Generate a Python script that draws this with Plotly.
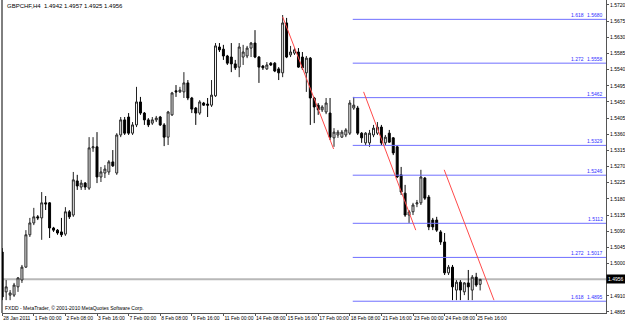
import plotly.graph_objects as go

# ---- GBPCHF H4 candles (28 Jan 2011 16:00 -> 25 Feb 2011 20:00) ----
opens = [1.5032, 1.4921, 1.4912, 1.4912, 1.4935, 1.4954, 1.4990, 1.5080, 1.5113, 1.5130,
         1.5127, 1.5169, 1.5169, 1.5099, 1.5093, 1.5088, 1.5082, 1.5144, 1.5135, 1.5230,
         1.5213, 1.5224, 1.5210, 1.5322, 1.5325, 1.5241, 1.5252, 1.5255, 1.5283, 1.5252,
         1.5358, 1.5400, 1.5408, 1.5363, 1.5386, 1.5450, 1.5419, 1.5400, 1.5391, 1.5400,
         1.5408, 1.5386, 1.5352, 1.5414, 1.5481, 1.5478, 1.5478, 1.5503, 1.5461, 1.5433,
         1.5419, 1.5447, 1.5444, 1.5441, 1.5467, 1.5603, 1.5597, 1.5578, 1.5575, 1.5556,
         1.5547, 1.5575, 1.5578, 1.5600, 1.5614, 1.5575, 1.5550, 1.5542, 1.5558, 1.5558,
         1.5542, 1.5531, 1.5670, 1.5581, 1.5586, 1.5589, 1.5575, 1.5531, 1.5572, 1.5461,
         1.5441, 1.5428, 1.5422, 1.5419, 1.5350, 1.5358, 1.5352, 1.5358, 1.5363, 1.5433,
         1.5433, 1.5363, 1.5336, 1.5336, 1.5358, 1.5363, 1.5380, 1.5336, 1.5363, 1.5350,
         1.5325, 1.5247, 1.5196, 1.5135, 1.5144, 1.5166, 1.5169, 1.5238, 1.5185, 1.5121,
         1.5121, 1.5088, 1.5060, 1.4974, 1.4990, 1.4926, 1.4948, 1.4921, 1.4946, 1.4926,
         1.4962, 1.4942]
highs = [1.5043, 1.4954, 1.4926, 1.4946, 1.4962, 1.4996, 1.5093, 1.5127, 1.5155, 1.5135,
         1.5199, 1.5188, 1.5171, 1.5102, 1.5096, 1.5127, 1.5157, 1.5149, 1.5255, 1.5247,
         1.5233, 1.5227, 1.5352, 1.5352, 1.5366, 1.5269, 1.5274, 1.5288, 1.5316, 1.5363,
         1.5408, 1.5408, 1.5419, 1.5394, 1.5492, 1.5464, 1.5422, 1.5405, 1.5408, 1.5411,
         1.5411, 1.5391, 1.5425, 1.5478, 1.5497, 1.5492, 1.5533, 1.5511, 1.5464, 1.5436,
         1.5455, 1.5450, 1.5461, 1.5511, 1.5614, 1.5614, 1.5609, 1.5581, 1.5614, 1.5567,
         1.5614, 1.5609, 1.5606, 1.5617, 1.5650, 1.5578, 1.5553, 1.5561, 1.5561, 1.5561,
         1.5547, 1.5692, 1.5684, 1.5606, 1.5600, 1.5600, 1.5589, 1.5578, 1.5575, 1.5464,
         1.5447, 1.5441, 1.5461, 1.5461, 1.5377, 1.5372, 1.5372, 1.5377, 1.5455, 1.5464,
         1.5439, 1.5366, 1.5366, 1.5372, 1.5386, 1.5394, 1.5386, 1.5358, 1.5372, 1.5352,
         1.5330, 1.5269, 1.5219, 1.5149, 1.5169, 1.5177, 1.5261, 1.5241, 1.5191, 1.5127,
         1.5130, 1.5093, 1.5085, 1.4996, 1.4996, 1.4954, 1.4954, 1.4948, 1.4982, 1.4968,
         1.4974, 1.4957]
lows = [1.4898, 1.4898, 1.4898, 1.4907, 1.4921, 1.4946, 1.4988, 1.5074, 1.5107, 1.5121,
        1.5066, 1.5149, 1.5071, 1.5088, 1.5080, 1.5074, 1.5077, 1.5124, 1.5130, 1.5205,
        1.5205, 1.5205, 1.5205, 1.5311, 1.5224, 1.5227, 1.5238, 1.5247, 1.5269, 1.5247,
        1.5352, 1.5358, 1.5358, 1.5358, 1.5380, 1.5414, 1.5386, 1.5380, 1.5386, 1.5394,
        1.5383, 1.5327, 1.5330, 1.5411, 1.5464, 1.5475, 1.5461, 1.5455, 1.5419, 1.5386,
        1.5414, 1.5439, 1.5408, 1.5436, 1.5464, 1.5589, 1.5567, 1.5553, 1.5533, 1.5539,
        1.5519, 1.5553, 1.5572, 1.5575, 1.5572, 1.5503, 1.5539, 1.5539, 1.5550, 1.5533,
        1.5511, 1.5519, 1.5572, 1.5575, 1.5581, 1.5545, 1.5539, 1.5478, 1.5386, 1.5391,
        1.5414, 1.5422, 1.5416, 1.5344, 1.5325, 1.5350, 1.5350, 1.5352, 1.5358, 1.5428,
        1.5358, 1.5336, 1.5330, 1.5325, 1.5352, 1.5358, 1.5330, 1.5330, 1.5336, 1.5302,
        1.5238, 1.5191, 1.5130, 1.5113, 1.5135, 1.5157, 1.5163, 1.5177, 1.5093, 1.5093,
        1.5088, 1.5052, 1.4968, 1.4968, 1.4898, 1.4898, 1.4898, 1.4912, 1.4898, 1.4898,
        1.4935, 1.4925]
closes = [1.4907, 1.4935, 1.4918, 1.4940, 1.4960, 1.4990, 1.5080, 1.5113, 1.5130, 1.5127,
          1.5169, 1.5166, 1.5099, 1.5093, 1.5085, 1.5080, 1.5144, 1.5130, 1.5233, 1.5216,
          1.5224, 1.5213, 1.5322, 1.5325, 1.5241, 1.5255, 1.5263, 1.5283, 1.5272, 1.5358,
          1.5400, 1.5363, 1.5363, 1.5386, 1.5450, 1.5419, 1.5400, 1.5386, 1.5400, 1.5405,
          1.5386, 1.5352, 1.5422, 1.5475, 1.5478, 1.5483, 1.5503, 1.5461, 1.5430, 1.5419,
          1.5450, 1.5441, 1.5441, 1.5469, 1.5606, 1.5595, 1.5578, 1.5558, 1.5556, 1.5545,
          1.5603, 1.5589, 1.5600, 1.5614, 1.5575, 1.5547, 1.5545, 1.5553, 1.5553, 1.5536,
          1.5531, 1.5670, 1.5575, 1.5589, 1.5595, 1.5547, 1.5545, 1.5572, 1.5461, 1.5436,
          1.5428, 1.5436, 1.5447, 1.5352, 1.5366, 1.5366, 1.5366, 1.5372, 1.5447, 1.5441,
          1.5363, 1.5350, 1.5363, 1.5363, 1.5377, 1.5380, 1.5336, 1.5352, 1.5338, 1.5308,
          1.5241, 1.5199, 1.5135, 1.5144, 1.5163, 1.5169, 1.5241, 1.5182, 1.5102, 1.5102,
          1.5093, 1.5060, 1.4974, 1.4990, 1.4935, 1.4948, 1.4926, 1.4946, 1.4935, 1.4962,
          1.4940, 1.4956]
bars = list(range(len(opens)))

# time axis labels (bar index -> label)
time_tick_bars = [0, 8, 16, 24, 32, 40, 48, 56, 64, 72, 80, 88, 96, 104, 112, 120]
time_tick_labels = ["28 Jan 2011", "1 Feb 00:00", "2 Feb 08:00", "3 Feb 16:00",
                    "7 Feb 00:00", "8 Feb 08:00", "9 Feb 16:00", "11 Feb 00:00",
                    "14 Feb 08:00", "15 Feb 16:00", "17 Feb 00:00", "18 Feb 08:00",
                    "21 Feb 16:00", "23 Feb 00:00", "24 Feb 08:00", "25 Feb 16:00"]

# price scale labels (1.4955 is hidden behind the bid box)
price_ticks = [1.5720, 1.5675, 1.5630, 1.5585, 1.5540, 1.5495, 1.5450, 1.5405, 1.5360,
               1.5315, 1.5270, 1.5225, 1.5180, 1.5135, 1.5090, 1.5045, 1.5000,
               1.4910, 1.4865]

# Fibonacci expansion levels
fib_levels = [1.5680, 1.5558, 1.5462, 1.5329, 1.5246, 1.5112, 1.5017, 1.4895]
fib_names = ["1.618", "1.272", "", "", "", "", "1.272", "1.618"]
fib_start_bar = 88.75

# red channel trend lines (bar index, price)
trend_x0 = [71.0, 91.5, 111.9]
trend_y0 = [1.5687, 1.5478, 1.5261]
trend_x1 = [83.9, 104.7, 124.5]
trend_y1 = [1.5319, 1.5093, 1.4898]

bid_price = 1.4956
header = "GBPCHF,H4  1.4942 1.4957 1.4925 1.4956"
copyright_text = "FXDD - MetaTrader, \u00a9 2001-2010 MetaQuotes Software Corp."

FONT = "Liberation Sans"
FS = 5
W, H = 625, 323
ML, MR, MT, MB = 2, 19, 0, 10
pw = W - ML - MR
ph = H - MT - MB

fig = go.Figure()
fig.add_trace(go.Candlestick(
    x=bars, open=opens, high=highs, low=lows, close=closes,
    increasing=dict(line=dict(color="#222222", width=1), fillcolor="#ffffff"),
    decreasing=dict(line=dict(color="#000000", width=1), fillcolor="#000000"),
    whiskerwidth=0, hoverinfo="skip", showlegend=False,
))

shapes = []
shapes.append(dict(type="line", xref="paper", yref="y", x0=0, x1=1, y0=bid_price, y1=bid_price,
                   line=dict(color="#b8b8b8", width=2), layer="below"))
for lv in fib_levels:
    shapes.append(dict(type="line", xref="x", yref="y", x0=fib_start_bar, x1=200, y0=lv, y1=lv,
                       line=dict(color="#7070ff", width=1)))
for a, b, c, d in zip(trend_x0, trend_y0, trend_x1, trend_y1):
    shapes.append(dict(type="line", xref="x", yref="y", x0=a, y0=b, x1=c, y1=d,
                       line=dict(color="#ff4a4a", width=1)))
shapes.append(dict(type="line", xref="paper", yref="paper", x0=0, x1=0, y0=0, y1=1,
                   line=dict(color="#000000", width=1)))

annotations = []
for lv, nm in zip(fib_levels, fib_names):
    annotations.append(dict(xref="paper", yref="y", x=0.998, y=lv, text="%.4f" % lv,
                            xanchor="right", yanchor="bottom", showarrow=False,
                            font=dict(family=FONT, size=FS, color="#3030ff"), yshift=-1))
    if nm:
        annotations.append(dict(xref="paper", yref="y", x=0.967, y=lv, text=nm,
                                xanchor="right", yanchor="bottom", showarrow=False,
                                font=dict(family=FONT, size=FS, color="#3030ff"), yshift=-1))
annotations.append(dict(xref="paper", yref="paper", x=3 / pw, y=1 - 6 / ph, text=header,
                        xanchor="left", yanchor="middle", showarrow=False,
                        font=dict(family=FONT, size=6, color="#000000")))
annotations.append(dict(xref="paper", yref="paper", x=1 / pw, y=1 - 308 / ph, text=copyright_text,
                        xanchor="left", yanchor="middle", showarrow=False,
                        font=dict(family=FONT, size=FS, color="#000000")))
annotations.append(dict(xref="paper", yref="y", x=1, y=bid_price, text="%.4f" % bid_price,
                        xanchor="left", yanchor="middle", showarrow=False, xshift=0,
                        bgcolor="#000000", borderpad=1,
                        font=dict(family=FONT, size=FS, color="#ffffff")))

px_per_bar = 3.95
x0 = -0.05
x1 = x0 + pw / px_per_bar
y_top = 1.57339
y_bot = y_top - ph * 0.0002785

fig.update_layout(
    width=W, height=H,
    margin=dict(l=ML, r=MR, t=MT, b=MB, pad=0, autoexpand=False),
    paper_bgcolor="#ffffff", plot_bgcolor="#ffffff",
    shapes=shapes, annotations=annotations, showlegend=False,
    font=dict(family=FONT, size=FS, color="#000000"),
    xaxis=dict(range=[x0, x1], rangeslider=dict(visible=False), showgrid=False, zeroline=False,
               tickmode="array", tickvals=time_tick_bars, ticktext=time_tick_labels,
               tickangle=0, ticks="outside", ticklen=2, tickcolor="#555555", tickwidth=1,
               ticklabelposition="outside right",
               showline=True, linecolor="#555555", linewidth=1,
               tickfont=dict(family=FONT, size=FS, color="#000000")),
    yaxis=dict(range=[y_bot, y_top], side="right", showgrid=False, zeroline=False,
               tickmode="array", tickvals=price_ticks, ticktext=["%.4f" % v for v in price_ticks],
               ticks="outside", ticklen=2, tickcolor="#555555", tickwidth=1,
               showline=True, linecolor="#555555", linewidth=1,
               tickfont=dict(family=FONT, size=FS, color="#000000")),
)

fig.write_html("out.html")
